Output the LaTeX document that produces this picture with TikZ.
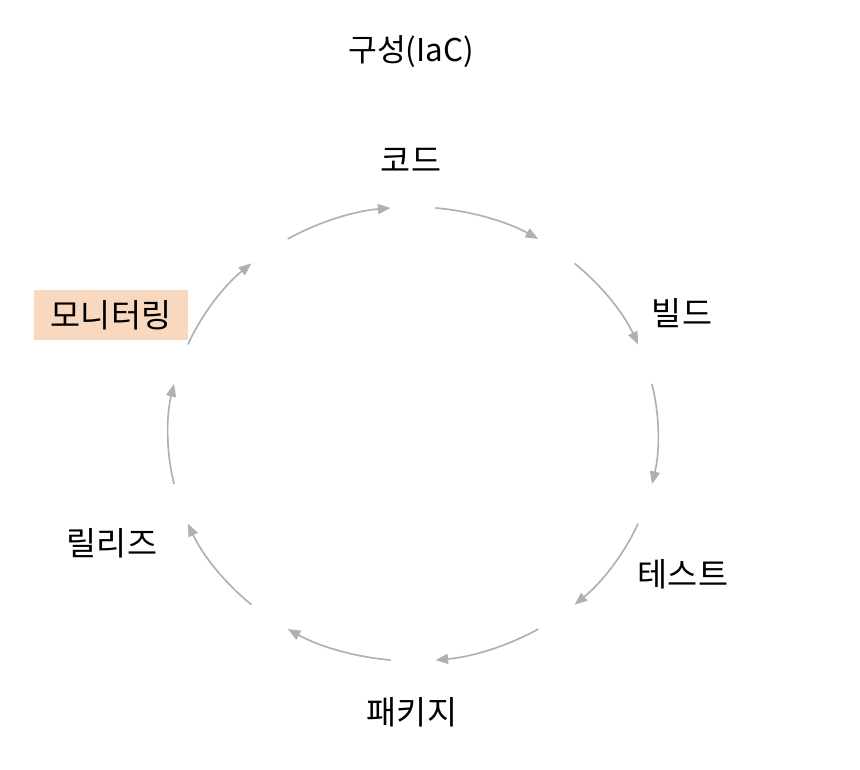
\documentclass[tikz,border=0pt]{standalone}
\usepackage{fontspec}
\setmainfont{Noto Sans CJK KR}
\usepackage{tikz}
\usetikzlibrary{arrows.meta, positioning}
\definecolor{arcgray}{HTML}{B0B0B0}
\definecolor{peach}{HTML}{F8D8BE}

\begin{document}
\begin{tikzpicture}[x=0.75pt, y=-0.75pt,
    lbl/.style={font=\fontsize{24.5}{29}\selectfont, inner sep=0pt},
    cyc/.style={draw=arcgray, line width=1.25pt, -{Triangle[length=9.5pt, width=7.5pt]}}]
    \useasboundingbox (0,0) rectangle (860,770);
    \coordinate (hub) at (413,434);

    \node[lbl, font=\fontsize{23.5}{28}\selectfont] (title) at (411,52) {구성(IaC)};
    \node[lbl] (code) at (411,160) {코드};
    \node[lbl] (build) at (682,313) {빌드};
    \node[lbl] (test) at (683,574) {테스트};
    \node[lbl] (pack) at (412,712) {패키지};
    \node[lbl] (release) at (112,543) {릴리즈};
    \node[lbl, fill=peach, minimum width=115.5pt, minimum height=37.5pt] (monitor) at (111,315) {모니터링};

    % ten arcs round the hub
    \foreach \k in {0,...,9}
        \draw[cyc] (hub) ++({-90+36*\k+5.25}:245 and 227) arc[start angle={-90+36*\k+5.25}, end angle={-90+36*\k+30.75}, x radius=245, y radius=227];
\end{tikzpicture}
\end{document}
